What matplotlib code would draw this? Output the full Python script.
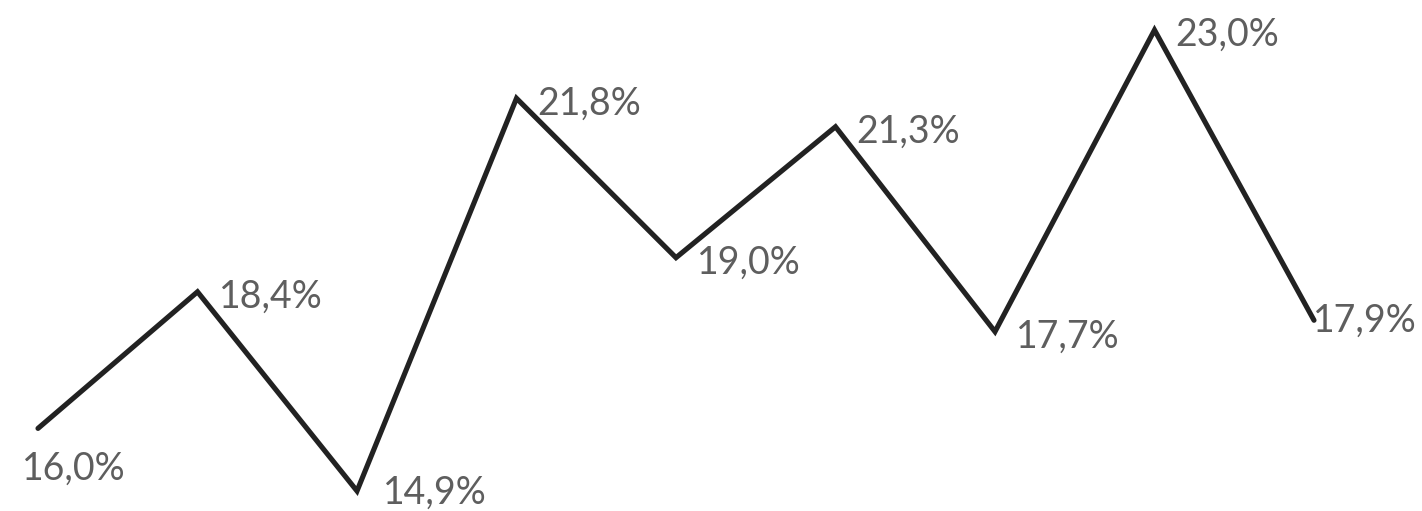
import matplotlib
matplotlib.use("Agg")
import matplotlib.pyplot as plt

values = [16.0, 18.4, 14.9, 21.8, 19.0, 21.3, 17.7, 23.0, 17.9]
labels = ["16,0%", "18,4%", "14,9%", "21,8%", "19,0%", "21,3%", "17,7%", "23,0%", "17,9%"]

plt.rcParams['font.family'] = ['Lato', 'DejaVu Sans']

fig = plt.figure(figsize=(14.22, 5.11), dpi=100)
ax = fig.add_axes([0, 0, 1, 1])
x = list(range(len(values)))
ax.plot(x, values, color="#222222", lw=3.7, solid_capstyle='round', solid_joinstyle='miter')

ax.set_xlim(-38 / 159.5, (1422 - 38) / 159.5)
ax.set_ylim(14.9 - 20 / 56.91, 14.9 + 491 / 56.91)
ax.axis('off')

n = len(values)
for i, (v, lab) in enumerate(zip(values, labels)):
    if i == 0:
        off = (-16, -40)
    elif i == n - 1:
        off = (-1, 0)
    elif i == 2:
        off = (26, -2)
    else:
        off = (21, -5)
    ax.annotate(lab, (i, v), xytext=off, textcoords='offset pixels',
                ha='left', va='center', fontsize=27,
                color="#5e5e5e")

fig.savefig("out.png", dpi=100)
